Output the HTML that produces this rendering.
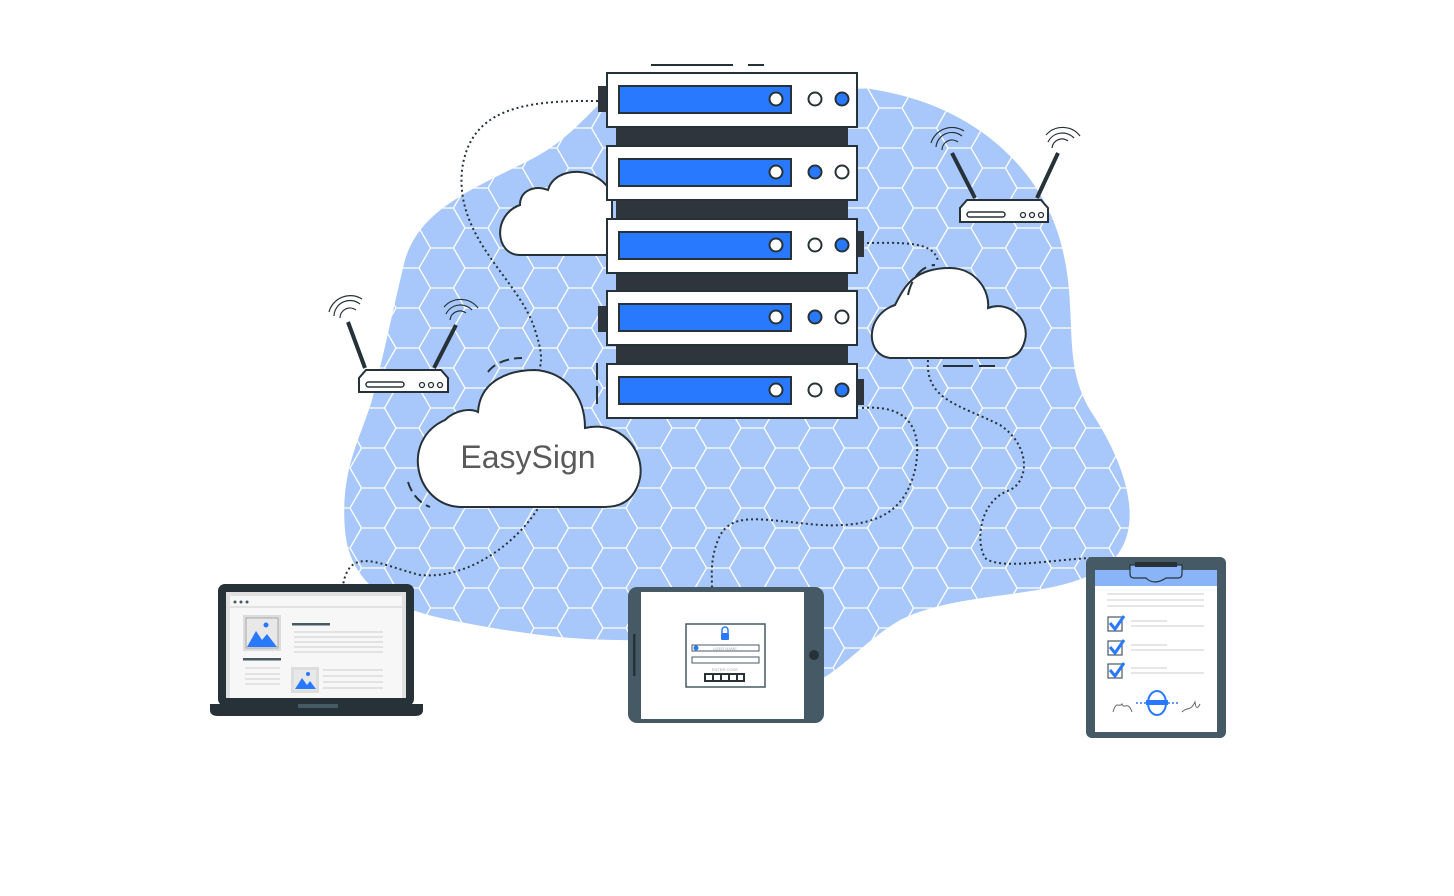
<!DOCTYPE html>
<html><head><meta charset="utf-8"><style>html,body{margin:0;padding:0;background:#fff}svg{display:block}</style></head>
<body>
<svg width="1454" height="896" viewBox="0 0 1454 896" xmlns="http://www.w3.org/2000/svg" font-family="Liberation Sans, sans-serif">
<defs>
<pattern id="hex" width="69" height="40" patternUnits="userSpaceOnUse" x="5" y="8">
<path d="M0 20L11.5 0H34.5L46 20H69M0 20L11.5 40H34.5L46 20" fill="none" stroke="#fff" stroke-width="1.3"/>
</pattern>
</defs>
<!-- blob -->
<path id="blob" d="M610 95 C700 80 820 75 900 95 C980 115 1040 170 1060 240 C1080 310 1060 360 1090 410 C1130 470 1150 540 1100 570 C1050 600 960 590 900 620 C850 650 830 690 780 690 C720 690 680 640 620 640 C560 640 500 630 450 620 C400 610 350 590 345 530 C340 470 360 440 372 400 C385 350 395 300 405 260 C420 210 470 190 530 160 C570 140 590 110 610 95Z" fill="#a8c7fa"/>
<path d="M610 95 C700 80 820 75 900 95 C980 115 1040 170 1060 240 C1080 310 1060 360 1090 410 C1130 470 1150 540 1100 570 C1050 600 960 590 900 620 C850 650 830 690 780 690 C720 690 680 640 620 640 C560 640 500 630 450 620 C400 610 350 590 345 530 C340 470 360 440 372 400 C385 350 395 300 405 260 C420 210 470 190 530 160 C570 140 590 110 610 95Z" fill="url(#hex)"/>

<!-- dotted connectors -->
<g fill="none" stroke="#263238" stroke-width="2" stroke-dasharray="2 3">
<path d="M598 101 C520 100 470 110 462 170 C455 240 520 280 535 330 C545 360 540 365 538 375"/>
<path d="M540 505 C520 540 470 580 420 575 C380 565 350 545 343 585"/>
<path d="M862 408 C900 405 925 420 915 470 C905 510 880 528 820 525 C760 520 730 510 718 540 C710 560 712 575 712 588"/>
<path d="M862 243 C900 243 935 240 938 262"/>
<path d="M928 360 C925 400 960 405 1000 425 C1030 445 1030 480 1010 490 C980 500 975 540 985 558 C1000 570 1050 560 1090 558"/>
</g>

<!-- cloud 1 -->
<path d="M520 255 C495 255 492 215 520 205 C520 190 535 185 548 190 C555 165 600 165 612 195 L612 255 Z" fill="#fff" stroke="#263238" stroke-width="2"/>
<!-- cloud right -->
<path d="M890 358 C865 355 865 315 895 305 C905 285 915 268 950 268 C975 268 990 290 988 308 C1010 300 1030 320 1025 340 C1022 352 1015 358 1005 358 Z" fill="#fff" stroke="#263238" stroke-width="2"/>
<path d="M908 295 C912 275 925 265 935 265" fill="none" stroke="#263238" stroke-width="2" stroke-dasharray="14 6"/>
<path d="M943 366 H995" stroke="#263238" stroke-width="2" stroke-dasharray="30 6"/>
<!-- EasySign cloud -->
<path d="M460 507 C415 505 400 440 445 420 C455 410 470 408 478 412 C480 380 510 370 535 370 C565 372 585 395 585 428 C620 420 645 450 640 478 C636 496 625 507 605 507 Z" fill="#fff" stroke="#263238" stroke-width="2"/>
<path d="M408 482 C412 495 420 503 430 507" fill="none" stroke="#263238" stroke-width="2" stroke-dasharray="10 5"/>
<path d="M488 372 C495 362 510 358 522 358" fill="none" stroke="#263238" stroke-width="2" stroke-dasharray="10 5"/>
<text x="528" y="468" text-anchor="middle" font-size="32" fill="#5a5a5a">EasySign</text>

<!-- server -->
<g stroke="#263238">
<line x1="651" y1="65" x2="733" y2="65" stroke-width="2"/>
<line x1="748" y1="65" x2="764" y2="65" stroke-width="2"/>
<rect x="616" y="120" width="232" height="260" fill="#2e353d" stroke="none"/>
<rect x="598" y="86" width="10" height="26" fill="#2e353d" stroke="none"/>
<rect x="598" y="306" width="10" height="26" fill="#2e353d" stroke="none"/>
<rect x="856" y="231" width="8" height="26" fill="#2e353d" stroke="none"/>
<rect x="856" y="379" width="8" height="26" fill="#2e353d" stroke="none"/>
<line x1="597" y1="363" x2="597" y2="380" stroke-width="2"/>
<line x1="597" y1="386" x2="597" y2="404" stroke-width="2"/>
</g>
<g stroke="#263238" stroke-width="2">
<g><rect x="607" y="73" width="250" height="54" fill="#fff"/><rect x="619" y="86" width="172" height="27" fill="#2979ff"/><circle cx="776" cy="99" r="6.5" fill="#fff"/><circle cx="815" cy="99" r="6.5" fill="#fff"/><circle cx="842" cy="99" r="6.5" fill="#2979ff"/></g>
<g><rect x="607" y="146" width="250" height="54" fill="#fff"/><rect x="619" y="159" width="172" height="27" fill="#2979ff"/><circle cx="776" cy="172" r="6.5" fill="#fff"/><circle cx="815" cy="172" r="6.5" fill="#2979ff"/><circle cx="842" cy="172" r="6.5" fill="#fff"/></g>
<g><rect x="607" y="219" width="250" height="54" fill="#fff"/><rect x="619" y="232" width="172" height="27" fill="#2979ff"/><circle cx="776" cy="245" r="6.5" fill="#fff"/><circle cx="815" cy="245" r="6.5" fill="#fff"/><circle cx="842" cy="245" r="6.5" fill="#2979ff"/></g>
<g><rect x="607" y="291" width="250" height="54" fill="#fff"/><rect x="619" y="304" width="172" height="27" fill="#2979ff"/><circle cx="776" cy="317" r="6.5" fill="#fff"/><circle cx="815" cy="317" r="6.5" fill="#2979ff"/><circle cx="842" cy="317" r="6.5" fill="#fff"/></g>
<g><rect x="607" y="364" width="250" height="54" fill="#fff"/><rect x="619" y="377" width="172" height="27" fill="#2979ff"/><circle cx="776" cy="390" r="6.5" fill="#fff"/><circle cx="815" cy="390" r="6.5" fill="#fff"/><circle cx="842" cy="390" r="6.5" fill="#2979ff"/></g>
</g>

<!-- routers -->
<g id="r1" stroke="#263238" fill="none">
<line x1="365" y1="368" x2="348" y2="322" stroke-width="4"/>
<line x1="434" y1="368" x2="456" y2="325" stroke-width="4"/>
<path d="M340 318 A10 10 0 0 1 356 310 M334 316 A16 16 0 0 1 360 304 M329 312 A22 22 0 0 1 362 299" stroke-width="1.2"/>
<path d="M450 320 A10 10 0 0 1 466 313 M446 314 A16 16 0 0 1 472 310 M444 307 A22 22 0 0 1 478 308" stroke-width="1.2"/>
<path d="M366 370 H441 L448 378 V392 H359 V378 Z" fill="#fff" stroke-width="2"/>
<rect x="366" y="382" width="38" height="5" rx="2.5" stroke-width="1.5"/>
<circle cx="422" cy="385" r="2.5" stroke-width="1.3"/><circle cx="431" cy="385" r="2.5" stroke-width="1.3"/><circle cx="440" cy="385" r="2.5" stroke-width="1.3"/>
</g>
<g stroke="#263238" fill="none">
<line x1="975" y1="198" x2="952" y2="153" stroke-width="4"/>
<line x1="1037" y1="198" x2="1058" y2="153" stroke-width="4"/>
<path d="M942 150 A10 10 0 0 1 958 142 M936 147 A16 16 0 0 1 962 136 M931 143 A22 22 0 0 1 964 131" stroke-width="1.2"/>
<path d="M1052 148 A10 10 0 0 1 1068 141 M1048 142 A16 16 0 0 1 1074 138 M1046 135 A22 22 0 0 1 1080 136" stroke-width="1.2"/>
<path d="M967 200 H1041 L1048 208 V222 H960 V208 Z" fill="#fff" stroke-width="2"/>
<rect x="967" y="212" width="38" height="5" rx="2.5" stroke-width="1.5"/>
<circle cx="1023" cy="215" r="2.5" stroke-width="1.3"/><circle cx="1032" cy="215" r="2.5" stroke-width="1.3"/><circle cx="1041" cy="215" r="2.5" stroke-width="1.3"/>
</g>

<!-- laptop -->
<rect x="218" y="584" width="196" height="122" rx="7" fill="#263238"/>
<rect x="226" y="592" width="180" height="106" fill="#e0e0e0"/>
<rect x="230" y="596" width="172" height="102" fill="#f7f7f7"/>
<circle cx="235" cy="602" r="1.5" fill="#455a64"/><circle cx="241" cy="602" r="1.5" fill="#455a64"/><circle cx="247" cy="602" r="1.5" fill="#455a64"/>
<line x1="230" y1="607" x2="402" y2="607" stroke="#ccc" stroke-width="1"/>
<rect x="243" y="615" width="38" height="36" fill="#ddd"/><rect x="246" y="618" width="32" height="30" fill="#e8e8e8" stroke="#999" stroke-width="0.8"/>
<path d="M247 647 L256 631 L262 640 L267 634 L277 647Z" fill="#2979ff"/><circle cx="266" cy="625" r="2.5" fill="#2979ff"/>
<rect x="243" y="658" width="38" height="2.5" fill="#455a64"/>
<rect x="292" y="623" width="38" height="2.5" fill="#455a64"/>
<g stroke="#ccc" stroke-width="1"><line x1="294" y1="632" x2="383" y2="632"/><line x1="294" y1="637" x2="383" y2="637"/><line x1="294" y1="642" x2="383" y2="642"/><line x1="294" y1="647" x2="383" y2="647"/><line x1="294" y1="652" x2="383" y2="652"/>
<line x1="245" y1="668" x2="280" y2="668"/><line x1="245" y1="674" x2="280" y2="674"/><line x1="245" y1="679" x2="280" y2="679"/><line x1="245" y1="684" x2="280" y2="684"/>
<line x1="323" y1="670" x2="383" y2="670"/><line x1="323" y1="676" x2="383" y2="676"/><line x1="323" y1="682" x2="383" y2="682"/><line x1="323" y1="688" x2="383" y2="688"/></g>
<rect x="291" y="667" width="28" height="26" fill="#ddd"/><rect x="294" y="670" width="22" height="20" fill="#e8e8e8"/>
<path d="M295 689 L302 678 L307 685 L310 681 L316 689Z" fill="#2979ff"/><circle cx="308" cy="674" r="2" fill="#2979ff"/>
<path d="M210 704 H423 V710 Q423 716 415 716 H218 Q210 716 210 710Z" fill="#263238"/>
<rect x="298" y="704" width="40" height="4" fill="#455a64"/>

<!-- tablet -->
<rect x="628" y="587" width="196" height="136" rx="9" fill="#455a64"/>
<rect x="641" y="592" width="163" height="127" fill="#fff"/>
<rect x="633" y="634" width="2.5" height="42" fill="#263238"/>
<circle cx="814" cy="655" r="5" fill="#263238"/>
<rect x="686" y="624" width="79" height="63" fill="#fff" stroke="#455a64" stroke-width="1.5"/>
<rect x="721" y="633" width="8" height="7" rx="1" fill="#2979ff"/><path d="M722 633 V630 A3 3 0 0 1 728 630 V633" fill="none" stroke="#2979ff" stroke-width="1.5"/>
<rect x="692" y="645" width="67" height="6" fill="#fff" stroke="#455a64" stroke-width="1"/>
<circle cx="696" cy="648" r="2.5" fill="#2979ff"/>
<text x="725" y="650" font-size="4" fill="#aaa" text-anchor="middle">USER NAME</text>
<rect x="692" y="657" width="67" height="6" fill="#fff" stroke="#455a64" stroke-width="1"/>
<text x="725" y="671" font-size="4" fill="#aaa" text-anchor="middle">ENTER CODE</text>
<rect x="704" y="673" width="41" height="9" fill="#263238"/>
<g fill="#fff"><rect x="706" y="675" width="6" height="5"/><rect x="714" y="675" width="6" height="5"/><rect x="722" y="675" width="6" height="5"/><rect x="730" y="675" width="6" height="5"/><rect x="738" y="675" width="5" height="5"/></g>

<!-- clipboard -->
<rect x="1086" y="557" width="140" height="181" rx="6" fill="#455a64"/>
<rect x="1095" y="570" width="122" height="162" fill="#fff"/>
<rect x="1095" y="570" width="122" height="16" fill="#8ab4f8"/>
<path d="M1130 565 H1182 V574 Q1182 578 1178 578 H1166 Q1160 582 1155 582 Q1150 582 1146 578 H1134 Q1130 578 1130 574Z" fill="#8ab4f8" stroke="#263238" stroke-width="1.2"/>
<rect x="1135" y="562" width="42" height="5" fill="#263238"/>
<g stroke="#ddd" stroke-width="1.5"><line x1="1107" y1="594" x2="1204" y2="594"/><line x1="1107" y1="600" x2="1204" y2="600"/><line x1="1107" y1="606" x2="1204" y2="606"/>
<line x1="1131" y1="621" x2="1167" y2="621"/><line x1="1131" y1="626" x2="1204" y2="626"/>
<line x1="1131" y1="645" x2="1167" y2="645"/><line x1="1131" y1="650" x2="1204" y2="650"/>
<line x1="1131" y1="668" x2="1167" y2="668"/><line x1="1131" y1="673" x2="1204" y2="673"/></g>
<g fill="#fff" stroke="#455a64" stroke-width="1.2"><rect x="1108" y="617" width="14" height="14"/><rect x="1108" y="641" width="14" height="14"/><rect x="1108" y="664" width="14" height="14"/></g>
<g fill="none" stroke="#2979ff" stroke-width="3"><path d="M1110 623 L1115 629 L1124 616"/><path d="M1110 647 L1115 653 L1124 640"/><path d="M1110 670 L1115 676 L1124 663"/></g>
<ellipse cx="1157" cy="703" rx="9" ry="12" fill="none" stroke="#2979ff" stroke-width="2"/>
<rect x="1146" y="700" width="22" height="5" fill="#2979ff"/>
<line x1="1136" y1="703" x2="1178" y2="703" stroke="#2979ff" stroke-width="1.5" stroke-dasharray="2 2"/>
<path d="M1113 712 C1116 700 1120 708 1122 704 C1124 710 1128 700 1132 712" fill="none" stroke="#666" stroke-width="1"/>
<path d="M1182 712 C1188 706 1190 712 1195 702 C1196 710 1198 708 1200 704" fill="none" stroke="#666" stroke-width="1"/>
</svg>
</body></html>
